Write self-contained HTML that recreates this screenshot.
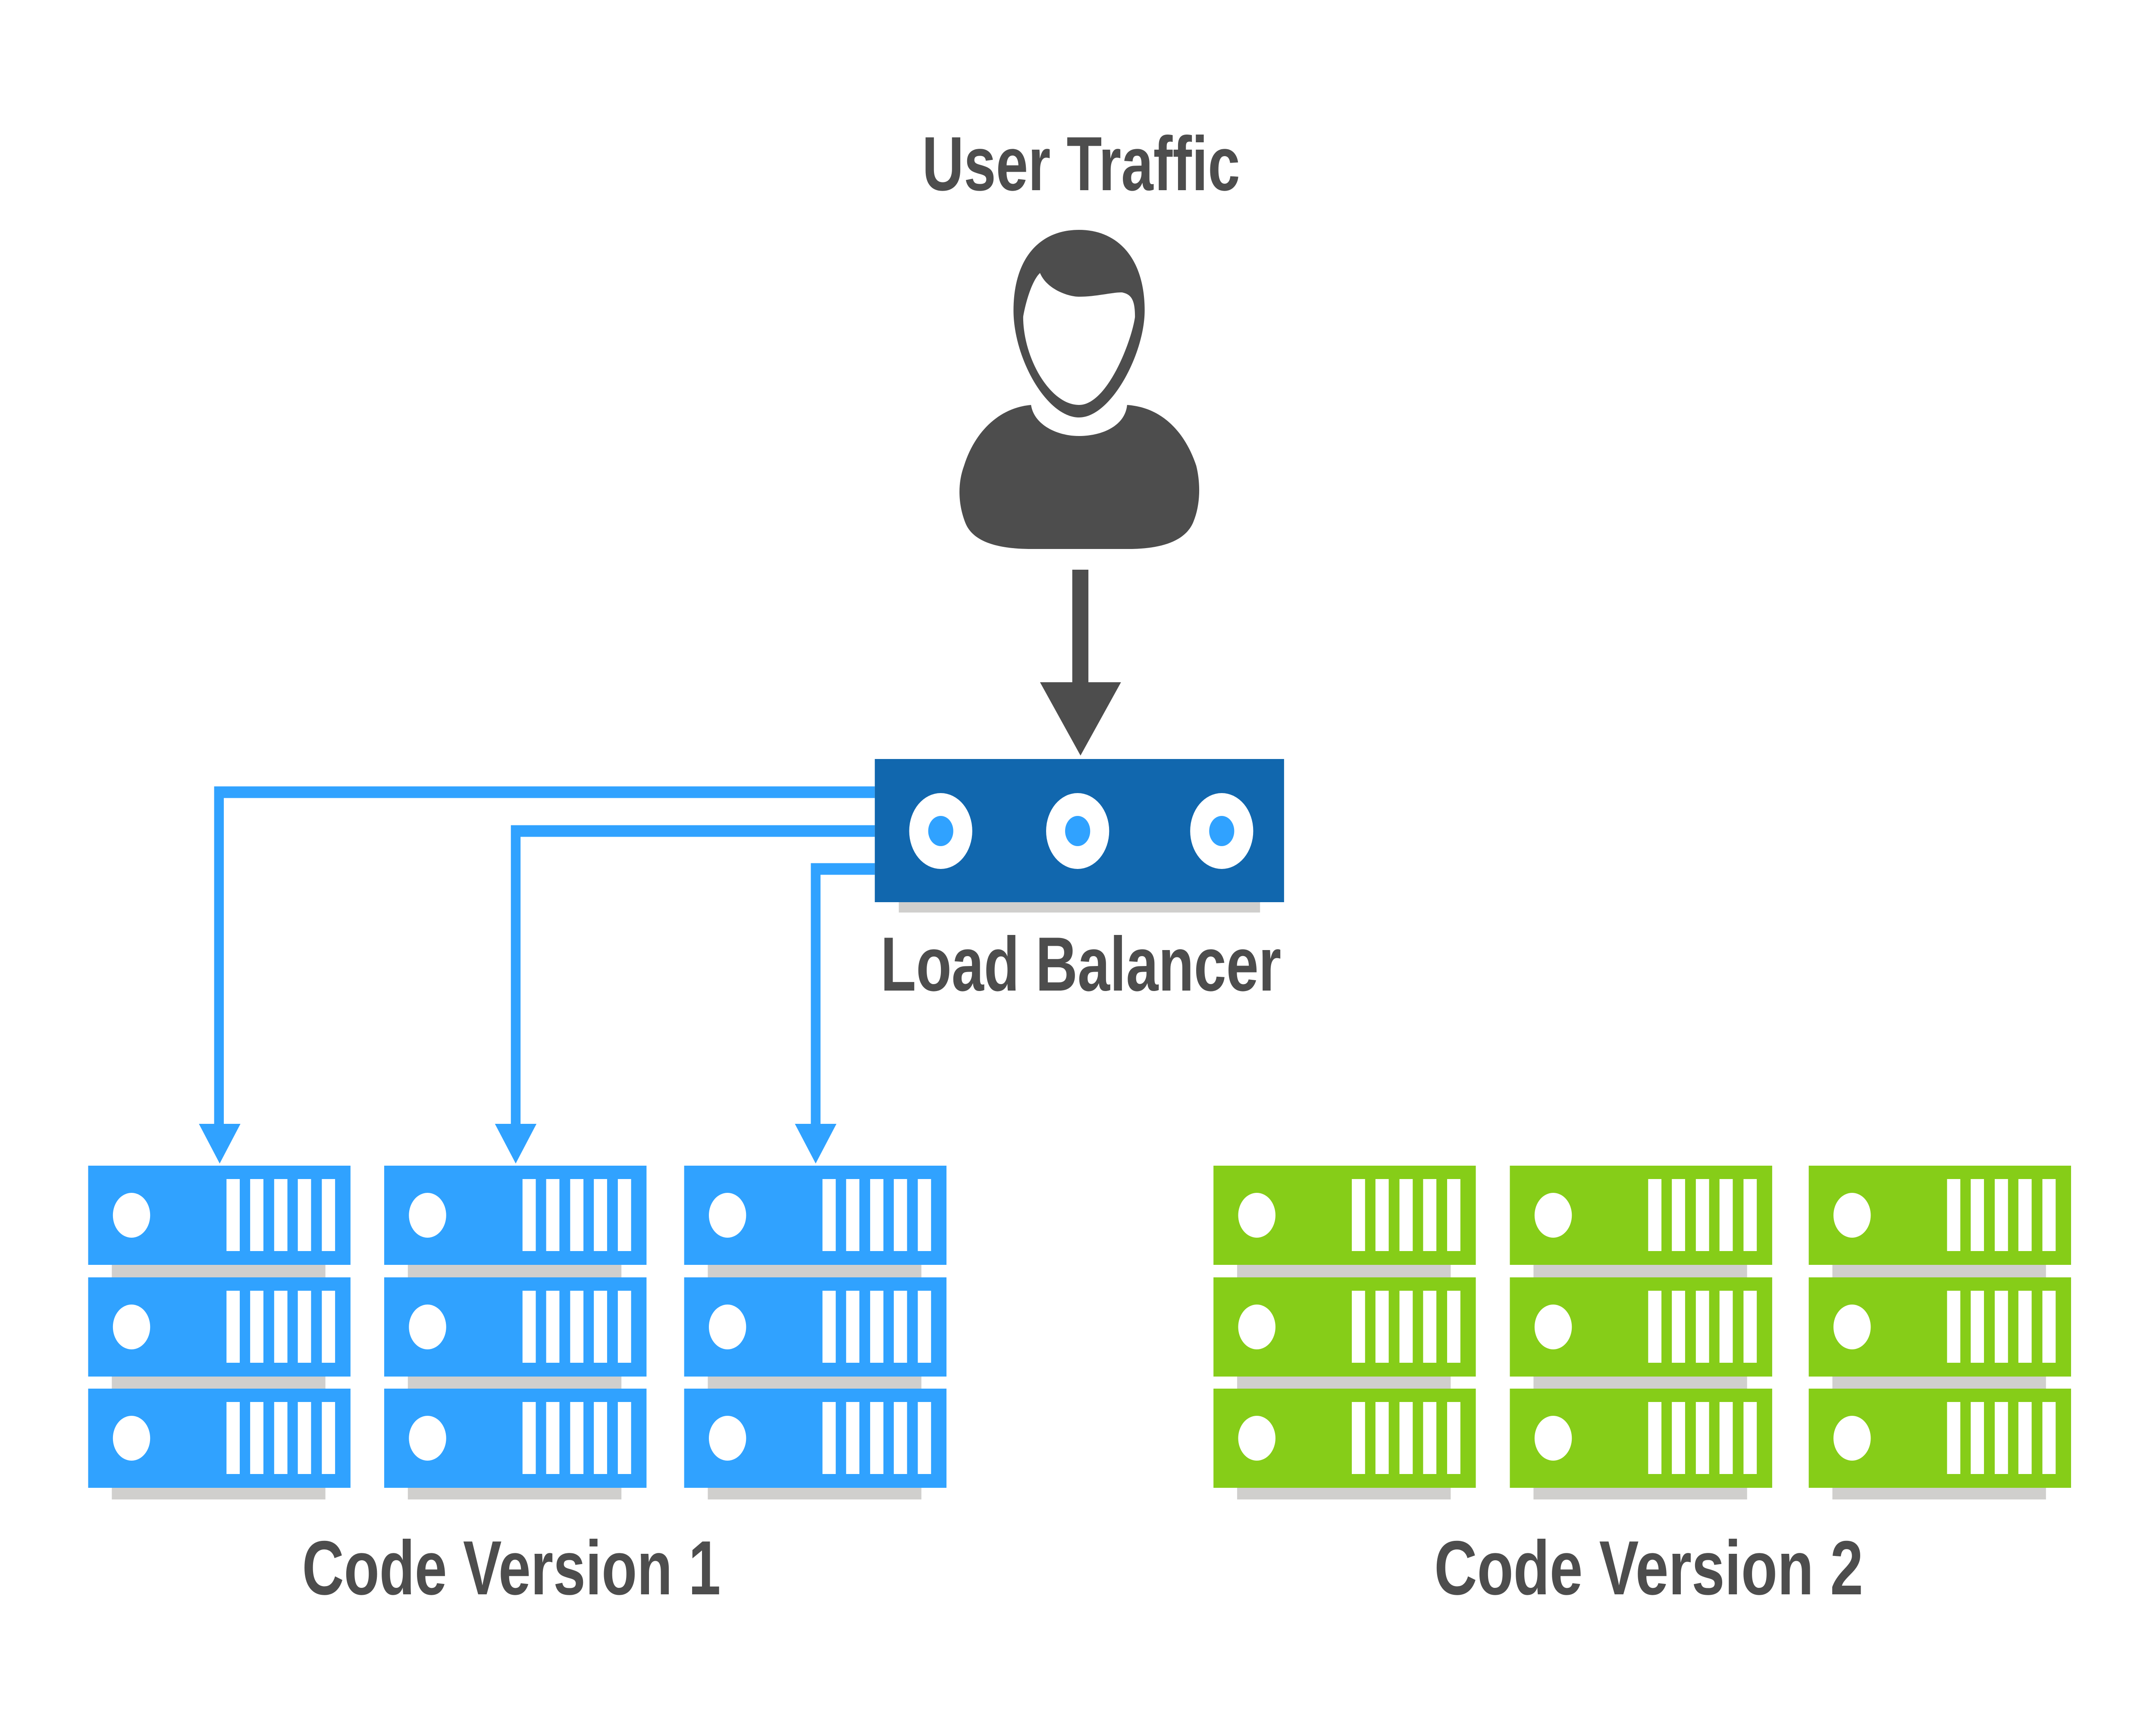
<!DOCTYPE html>
<html><head><meta charset="utf-8"><style>
html,body{margin:0;padding:0;background:#fff;width:100%;height:100%;overflow:hidden;}
svg{display:block;position:fixed;left:0;top:0;width:100vw;height:100vh;}
text{font-family:"Liberation Sans",sans-serif;font-weight:bold;fill:#4d4d4d;}
</style></head><body>
<svg viewBox="0 0 6016 4000" preserveAspectRatio="none" xmlns="http://www.w3.org/2000/svg">
<defs>
<g id="srv">
  <rect x="66" y="0" width="596" height="774" fill="#d0cfcd"/>
  <g fill="currentColor">
    <rect x="0" y="0" width="732" height="230"/>
    <rect x="0" y="259" width="732" height="230"/>
    <rect x="0" y="517" width="732" height="230"/>
  </g>
  <g fill="#fff">
    <circle cx="121" cy="115" r="52"/>
    <circle cx="121" cy="374" r="52"/>
    <circle cx="121" cy="632" r="52"/>
    <g id="bars">
      <rect x="386" y="31" width="37" height="167"/>
      <rect x="452" y="31" width="37" height="167"/>
      <rect x="519" y="31" width="37" height="167"/>
      <rect x="585" y="31" width="37" height="167"/>
      <rect x="652" y="31" width="37" height="167"/>
    </g>
    <use href="#bars" y="259"/>
    <use href="#bars" y="517"/>
  </g>
</g>
</defs>

<text x="2573" y="441" font-size="178" textLength="887" lengthAdjust="spacingAndGlyphs">User Traffic</text>

<path fill="#4d4d4d" d="M3011,533 C3120,533 3194,600 3194,720 C3194,820 3100,968 3011,968 C2920,968 2828,830 2828,720 C2828,600 2900,533 3011,533 Z"/>
<path fill="#fff" d="M2902,633 C2920,670 2980,688 3010,688 C3060,688 3100,678 3130,678 C3160,682 3167,700 3167,735 C3158,790 3090,939 3011,939 C2930,939 2855,830 2855,735 C2862,700 2880,650 2902,633 Z"/>
<path fill="#4d4d4d" d="M2877,939 C2885,985 2950,1011 3010,1011 C3080,1011 3140,985 3145,939 C3250,945 3310,1010 3338,1080 C3350,1120 3350,1170 3330,1210 C3305,1262 3220,1273 3150,1273 L2880,1273 C2800,1273 2720,1262 2695,1215 C2675,1175 2670,1125 2690,1080 C2720,1000 2790,945 2877,939 Z"/>

<rect x="2992" y="1321" width="45" height="263" fill="#4d4d4d"/>
<polygon points="2902,1582 3128,1582 3015,1752" fill="#4d4d4d"/>

<g fill="none" stroke="#30a2ff" stroke-width="27">
  <polyline points="2441,1837 611,1837 611,2610"/>
  <polyline points="2441,1927 1439,1927 1439,2610"/>
  <polyline points="2441,2015 2276,2015 2276,2610"/>
</g>
<g fill="#30a2ff">
  <polygon points="555,2606 671,2606 613,2698"/>
  <polygon points="1381,2606 1497,2606 1439,2698"/>
  <polygon points="2218,2606 2334,2606 2276,2698"/>
</g>

<rect x="2508" y="2092" width="1008" height="24" fill="#d0cfcd"/>
<rect x="2441" y="1760" width="1142" height="332" fill="#1167ae"/>
<g fill="#fff"><circle cx="2625" cy="1927" r="88"/><circle cx="3007" cy="1927" r="88"/><circle cx="3409" cy="1927" r="88"/></g>
<g fill="#30a2ff"><circle cx="2625" cy="1927" r="35"/><circle cx="3007" cy="1927" r="35"/><circle cx="3409" cy="1927" r="35"/></g>
<text x="2457" y="2297" font-size="178" textLength="1118" lengthAdjust="spacingAndGlyphs">Load Balancer</text>

<g color="#30a2ff">
  <use href="#srv" x="246" y="2703"/>
  <use href="#srv" x="1072" y="2703"/>
  <use href="#srv" x="1909" y="2703"/>
</g>
<g color="#86cd18">
  <use href="#srv" x="3386" y="2703"/>
  <use href="#srv" x="4213" y="2703"/>
  <use href="#srv" x="5047" y="2703"/>
</g>

<text x="843" y="3697" font-size="178" textLength="1168" lengthAdjust="spacingAndGlyphs">Code Version 1</text>
<text x="4002" y="3697" font-size="178" textLength="1197" lengthAdjust="spacingAndGlyphs">Code Version 2</text>
</svg>
</body></html>
